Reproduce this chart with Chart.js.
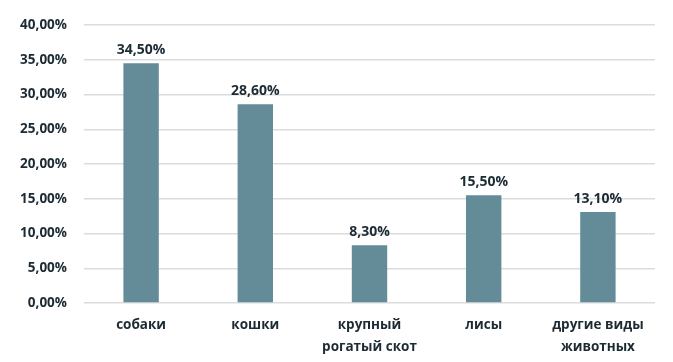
<!DOCTYPE html>
<html><head><meta charset="utf-8">
<script src="https://cdn.jsdelivr.net/npm/chart.js@4/dist/chart.umd.min.js"></script>
<style>html,body{margin:0;padding:0;background:#fff;}#wrap{width:673px;height:362px;}</style>
</head><body><div id="wrap"><canvas id="c" width="673" height="362"></canvas></div>
<script>
const categories = [["собаки"], ["кошки"], ["крупный", "рогатый скот"], ["лисы"], ["другие виды", "животных"]];
const values = [34.5, 28.6, 8.3, 15.5, 13.1];
const yTicks = [0, 5, 10, 15, 20, 25, 30, 35, 40];

const fmt = v => v.toFixed(2).replace('.', ',') + '%';
const FONT = "'Open Sans', sans-serif";
const TXT = '#1c2b33';

const labelPlugin = {
  id: 'barLabels',
  afterDatasetsDraw(chart) {
    const ctx = chart.ctx;
    const meta = chart.getDatasetMeta(0);
    ctx.save();
    ctx.font = "bold 14px " + FONT;
    ctx.fillStyle = TXT;
    ctx.textAlign = 'center';
    ctx.textBaseline = 'bottom';
    meta.data.forEach((bar, i) => {
      ctx.fillText(fmt(values[i]), bar.x, bar.y - 6);
    });
    ctx.restore();
  }
};

new Chart(document.getElementById('c'), {
  type: 'bar',
  data: {
    labels: categories,
    datasets: [{ data: values, backgroundColor: '#648c98', barPercentage: 0.31, categoryPercentage: 1 }]
  },
  options: {
    responsive: false,
    animation: false,
    layout: { padding: { top: 25, right: 18, left: 0, bottom: 0 } },
    plugins: { legend: { display: false }, tooltip: { enabled: false } },
    scales: {
      x: {
        grid: { display: false, drawTicks: false },
        border: { display: false },
        ticks: { color: TXT, font: { family: FONT, size: 13.5, weight: 'bold', lineHeight: 1.63 }, padding: 11, maxRotation: 0 },
        afterFit(s) { s.height = 59; }
      },
      y: {
        min: 0, max: 40,
        afterBuildTicks(s) { s.ticks = yTicks.map(v => ({ value: v })); },
        grid: { color: '#dcdcdc', lineWidth: 1.5, drawTicks: false },
        border: { display: false },
        ticks: { color: TXT, font: { family: FONT, size: 13.5, weight: 'bold' }, padding: 17, callback: v => fmt(v) },
        afterFit(s) { s.width = 84; }
      }
    }
  },
  plugins: [labelPlugin]
});
</script></body></html>
